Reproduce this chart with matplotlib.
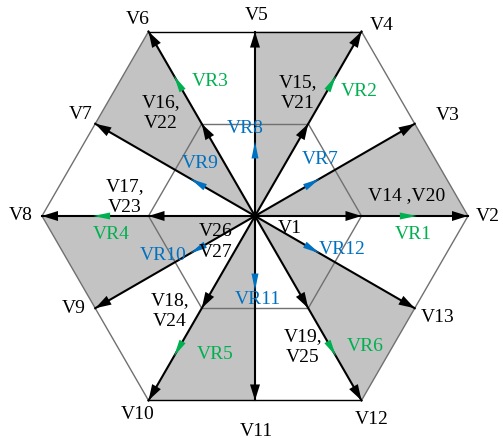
import numpy as np
import matplotlib.pyplot as plt
from matplotlib.patches import Polygon

plt.rcParams['font.family'] = ['Liberation Serif', 'DejaVu Serif']

# outer vectors V2..V13, every 30 degrees
outer_names = ['V2', 'V3', 'V4', 'V5', 'V6', 'V7', 'V8', 'V9', 'V10', 'V11', 'V12', 'V13']
outer_angles = [0, 30, 60, 90, 120, 150, 180, 210, 240, 270, 300, 330]
outer_mags = [1.0, 0.866, 1.0, 0.866, 1.0, 0.866, 1.0, 0.866, 1.0, 0.866, 1.0, 0.866]

# inner (half size) vectors on the 60 degree directions
inner_angles = [0, 60, 120, 180, 240, 300]
inner_mag = 0.5

# reference vector markers
vr_green = ['VR1', 'VR2', 'VR3', 'VR4', 'VR5', 'VR6']
vr_green_angles = [0, 60, 120, 180, 240, 300]
vr_green_mag = 0.76
vr_blue = ['VR7', 'VR8', 'VR9', 'VR10', 'VR11', 'VR12']
vr_blue_angles = [30, 90, 150, 210, 270, 330]
vr_blue_mag = 0.35

# shaded sectors (start angle, end angle)
shaded = [(0, 30), (60, 90), (120, 150), (180, 210), (240, 270), (300, 330)]

# label positions in pixels
outer_label_xy = [(488, 217), (448, 116), (382, 26), (257, 15), (138, 20), (81, 115),
                  (21, 216), (74, 309), (138, 415), (256, 432), (372, 420), (438, 318)]
pair_labels = ['V14 ,V20', 'V15,\nV21', 'V16,\nV22', 'V17,\nV23', 'V18,\nV24', 'V19,\nV25', 'V26\nV27', 'V1']
pair_label_xy = [(407, 196), (298, 93), (161, 113), (125, 197), (170, 311), (303, 347), (216, 242), (290, 229)]
green_label_xy = [(413, 235), (359, 91), (210, 82), (111, 235), (215, 355), (365, 347)]
blue_label_xy = [(320, 160), (245, 129), (200, 164), (163, 256), (258, 300), (342, 250)]

green = '#00b050'
blue = '#0070c0'

W, H = 503, 439
cx, cy, R = 255, 217, 213

fig = plt.figure(figsize=(W / 100, H / 100), dpi=100)
ax = fig.add_axes([0, 0, 1, 1])
ax.set_xlim(0, W)
ax.set_ylim(H, 0)
ax.axis('off')


def pt(ang, mag):
    a = np.radians(ang)
    return cx + R * mag * np.cos(a), cy - R * mag * np.sin(a)


def head(ang, mag, color, length, half):
    tx, ty = pt(ang, mag)
    a = np.radians(ang)
    ux, uy = np.cos(a), -np.sin(a)
    bx, by = tx - length * ux, ty - length * uy
    px, py = -uy, ux
    tri = [(tx, ty), (bx + half * px, by + half * py), (bx - half * px, by - half * py)]
    ax.add_patch(Polygon(tri, closed=True, color=color, zorder=6, lw=0))


# shaded triangles
for a0, a1 in shaded:
    m0 = outer_mags[outer_angles.index(a0)]
    m1 = outer_mags[outer_angles.index(a1)]
    ax.add_patch(Polygon([(cx, cy), pt(a0, m0), pt(a1, m1)], closed=True,
                         facecolor='#c3c3c3', edgecolor='none', zorder=1))

# hexagons
hex_angles = [0, 60, 120, 180, 240, 300, 0]
for k in range(6):
    for mag in (1.0, inner_mag):
        p0 = pt(hex_angles[k], mag)
        p1 = pt(hex_angles[k + 1], mag)
        flat = hex_angles[k] in (60, 240)
        col = 'black' if (flat and mag == 1.0) else '#707070'
        ax.plot([p0[0], p1[0]], [p0[1], p1[1]], color=col, lw=1.0, zorder=2)

# vectors from the centre
for ang, mag in zip(outer_angles, outer_mags):
    x1, y1 = pt(ang, mag)
    ax.plot([cx, x1], [cy, y1], color='black', lw=1.5, zorder=4)
    head(ang, mag, 'black', 16, 5)
for ang in inner_angles:
    head(ang, inner_mag, 'black', 16, 5)

for ang in vr_green_angles:
    head(ang, vr_green_mag, green, 17, 3.5)
for ang in vr_blue_angles:
    head(ang, vr_blue_mag, blue, 17, 3.5)

# labels
fs = 14
for name, (x, y) in zip(outer_names, outer_label_xy):
    ax.text(x, y, name, fontsize=fs, ha='center', va='center', zorder=7)
for name, (x, y) in zip(pair_labels, pair_label_xy):
    ax.text(x, y, name, fontsize=fs, ha='center', va='center', linespacing=1.3, zorder=7)
for name, (x, y) in zip(vr_green, green_label_xy):
    ax.text(x, y, name, fontsize=fs, color=green, ha='center', va='center', zorder=7)
for name, (x, y) in zip(vr_blue, blue_label_xy):
    ax.text(x, y, name, fontsize=fs, color=blue, ha='center', va='center', zorder=7)

fig.savefig('out.png', dpi=100)
